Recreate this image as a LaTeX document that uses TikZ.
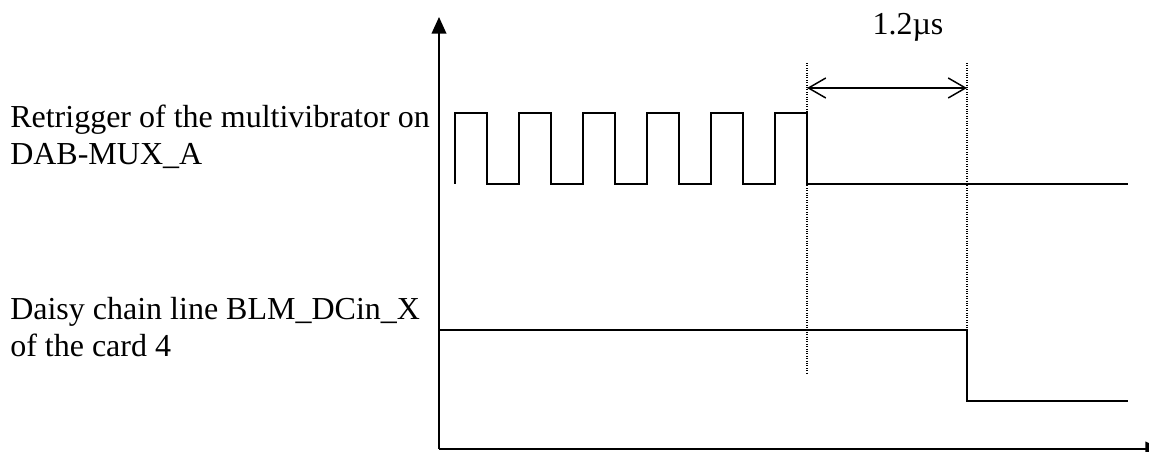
\documentclass[tikz,border=0pt]{standalone}
\usepackage{fontspec}
\setmainfont{Liberation Serif}
\usetikzlibrary{arrows.meta}

\begin{document}
\begin{tikzpicture}[x=0.75pt,y=-0.75pt,>={Triangle[length=12.5pt,width=11pt]},
  sig/.style={line width=1.4pt,line join=miter},
  guide/.style={densely dotted,line width=0.8pt},
  lbl/.style={anchor=base west,align=left,inner sep=0pt,font=\fontsize{24}{27.75}\selectfont}]
  \useasboundingbox (0,0) rectangle (1149,452);
  % axes
  \coordinate (o) at (439,449);
  \draw[->,line width=1.3pt] (o) -- (439,17);
  \draw[->,line width=1.3pt] (o) -- (1162,449);
  % labels (base = last line)
  \node[lbl] (retrig) at (10,165) {Retrigger of the multivibrator on\\DAB-MUX\_A};
  \node[lbl] (daisy) at (10,356) {Daisy chain line BLM\_DCin\_X\\of the card 4};
  % retrigger pulses
  \draw[sig] (455,184)
    \foreach \i in {0,...,5} {
      -- ++(0,-71) -- ++(32,0) -- ++(0,71) -- ++(32,0)
    };
  \draw[sig] (807,184) -- (1128,184);
  % daisy chain line
  \draw[sig] (439,330) -- (967,330) -- (967,401) -- (1128,401);
  % timing guides
  \coordinate (t0) at (807,88);
  \coordinate (t1) at (967,88);
  \draw[guide] (807,63) -- (807,374);
  \draw[guide] (967,63) -- (967,330);
  \draw[{Straight Barb[length=13pt,width=15pt]}-{Straight Barb[length=13pt,width=15pt]},line width=1.1pt] (t0) -- (t1);
  \node[anchor=base,inner sep=0pt,font=\fontsize{24}{28}\selectfont] (dt) at (908,35) {1.2µs};
\end{tikzpicture}
\end{document}
